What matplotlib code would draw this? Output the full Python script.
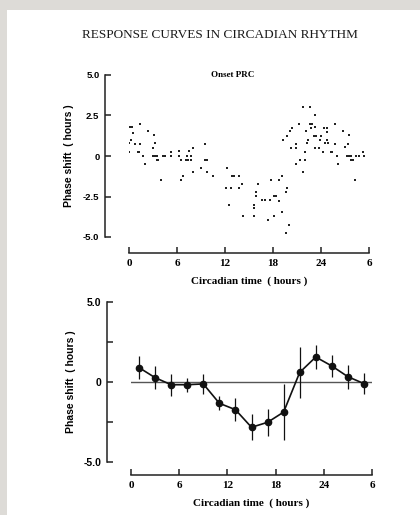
import numpy as np
import matplotlib
matplotlib.use('Agg')
import matplotlib.pyplot as plt
from matplotlib.patches import Rectangle

# Onset PRC: individual phase shifts (circadian time in h, shift in h)
ct_raw = [0.0, 0.05, 0.1, 0.4, 0.3, 0.46, 0.8, 1.1, 1.3, 1.4, 1.4, 1.8, 2.0, 2.4,
          3.0, 3.1, 3.2, 3.0, 3.25, 3.5, 3.5, 3.6, 4.0, 4.3, 4.5, 5.2, 5.2, 6.2,
          6.2, 6.5, 6.5, 6.8, 7.1, 7.4, 7.75, 7.2, 7.5, 7.75, 8.0, 8.0, 9.0, 9.5,
          9.7, 9.5, 9.8, 10.5,
          12.25, 12.1, 12.8, 12.5, 12.9, 13.1, 13.75, 13.7, 14.1, 14.2, 15.6, 15.6,
          15.6, 15.9, 15.9, 16.1, 16.6, 17.0, 17.6, 17.4, 17.8, 18.1, 18.4, 18.1,
          18.7, 18.8, 19.1, 19.1, 19.2, 19.6, 19.6, 19.8, 20.0, 19.7, 20.1, 20.4,
          20.3,
          20.9, 20.9, 20.9, 21.3, 21.4, 21.7, 21.7, 22.0, 22.0, 22.1, 22.2, 22.4,
          22.6, 22.9, 22.6, 22.7, 23.1, 23.25, 23.25, 23.25, 23.4, 23.75, 23.9,
          23.96, 24.2, 24.4, 24.5, 24.75, 24.8, 24.9, 24.8, 25.2, 25.4, 25.75,
          25.7, 26.0, 26.1, 26.7, 27.0, 27.5, 27.4, 27.2, 27.45, 27.7, 27.8, 28.0,
          28.2, 28.4, 28.7, 29.3, 29.4]
shift_raw = [0.27, 0.78, 1.77, 1.77, 0.99, 1.44, 0.74, 0.27, 0.27, 2.0, 0.74, 0.0,
             -0.5, 1.55, 0.47, 1.3, 0.78, 0.0, 0.0, 0.0, -0.25, -0.25, -1.48, 0.0,
             0.0, 0.27, 0.0, 0.33, 0.0, -0.25, -1.48, -1.24, -0.25, -0.25, -0.25,
             0.0, 0.29, 0.0, 0.5, -1.0, -0.72, -0.25, -0.25, 0.74, -1.0, -1.24,
             -0.72, -1.98, -1.98, -3.0, -1.24, -1.24, -1.24, -1.98, -1.73, -3.7,
             -3.0, -3.24, -3.7, -2.23, -2.47, -1.73, -2.74, -2.74, -2.74, -3.98,
             -1.48, -2.47, -2.47, -3.7, -1.48, -2.8, -1.24, -3.48, 0.99, -2.23,
             -4.74, -1.98, -4.23, 1.24, 1.55, 1.73, 0.47,
             -0.5, 0.74, 0.47, 2.0, -0.25, 3.0, -1.0, 0.27, -0.25, 1.55, 0.78,
             0.99, 2.0, 2.0, 3.0, 1.73, 1.24, 2.5, 1.81, 0.47, 1.24, 0.47, 0.99,
             1.24, 0.27, 1.73, 0.78, 1.73, 1.48, 0.78, 0.99, 0.27, 0.27, 2.0, 0.74,
             0.0, -0.5, 1.55, 0.54, 1.28, 0.74, 0.0, 0.0, 0.0, -0.25, -0.25, -1.48,
             0.0, 0.0, 0.27, 0.0]

# mean PRC with error bars
ct_mean = [1, 3, 5, 7, 9, 11, 13, 15, 17, 19, 21, 23, 25, 27, 29]
shift_mean = [0.9, 0.27, -0.17, -0.17, -0.12, -1.33, -1.73, -2.83, -2.52, -1.88,
              0.6, 1.56, 1.0, 0.33, -0.1]
shift_err = [0.7, 0.7, 0.7, 0.45, 0.6, 0.45, 0.7, 0.8, 0.85, 1.77, 1.6, 0.75,
             0.7, 0.75, 0.68]

xticks = [0, 6, 12, 18, 24, 30]
xticklabels = ['0', '6', '12', '18', '24', '6']

serif = 'Liberation Serif'
sans = 'Liberation Sans'

fig = plt.figure(figsize=(4.2, 5.15), dpi=100, facecolor='#dddbd7')
fig.patches.append(Rectangle((7 / 420, 0), 1, 1 - 10 / 515, transform=fig.transFigure,
                             facecolor='white', edgecolor='none', zorder=-10))

fig.text(0.524, 1 - 35 / 515, 'RESPONSE CURVES IN CIRCADIAN RHYTHM',
         ha='center', va='center', family=serif, fontsize=9.5, color='#1a1a1a')

ax1 = fig.add_axes([129 / 420, 1 - 237 / 515, 240 / 420, 162 / 515])
ax2 = fig.add_axes([131 / 420, 1 - 462 / 515, 241 / 420, 160 / 515])


def style(ax, ylabels, xoff, yoff, ylab_x, ysize):
    ax.set_facecolor('none')
    ax.set_xlim(0, 30)
    ax.set_ylim(-5, 5)
    for s in ['top', 'right']:
        ax.spines[s].set_visible(False)
    ax.spines['left'].set_position(('outward', xoff * 0.72))
    ax.spines['bottom'].set_position(('outward', yoff * 0.72))
    ax.spines['left'].set_bounds(-5, 5)
    ax.spines['bottom'].set_bounds(0, 30)
    for s in ['left', 'bottom']:
        ax.spines[s].set_linewidth(1.1)
        ax.spines[s].set_color('#222222')
    ax.set_yticks([-5, -2.5, 0, 2.5, 5])
    ax.set_yticklabels(ylabels, family=sans, fontweight='bold', fontsize=ysize)
    ax.set_xticks(xticks)
    ax.set_xticklabels(xticklabels, family=serif, fontweight='bold', fontsize=8)
    ax.tick_params(direction='in', length=4.5, width=1.1, color='#222222')
    ax.tick_params(axis='y', pad=4)
    ax.tick_params(axis='x', pad=4)
    ax.set_xlabel('Circadian time  ( hours )', family=serif, fontweight='bold',
                  fontsize=8, labelpad=6.5)
    ax.set_ylabel('Phase shift  ( hours )', family=sans, fontweight='bold',
                  fontsize=7.5)
    ax.yaxis.set_label_coords(ylab_x, 0.5)


style(ax1, ['-5.0', '-2.5', '0', '2.5', '5.0'], 24, 16, -0.228, 6.8)
ax1.plot(ct_raw, shift_raw, 's', color='#222222', markersize=1.6, markeredgewidth=0)
ax1.text(0.43, 1.0, 'Onset PRC', transform=ax1.transAxes, ha='center', va='center',
         family=serif, fontweight='bold', fontsize=6.5)

style(ax2, ['-5.0', '', '0', '', '5.0'], 24, 13, -0.228, 7.5)
ax2.axhline(0, color='#555555', linewidth=1.0, zorder=1)
ax2.errorbar(ct_mean, shift_mean, yerr=shift_err, fmt='-o', color='#111111',
             markersize=4.5, linewidth=1.2, elinewidth=0.9, capsize=0, zorder=3)

fig.savefig('out.png', dpi=100, facecolor=fig.get_facecolor())
